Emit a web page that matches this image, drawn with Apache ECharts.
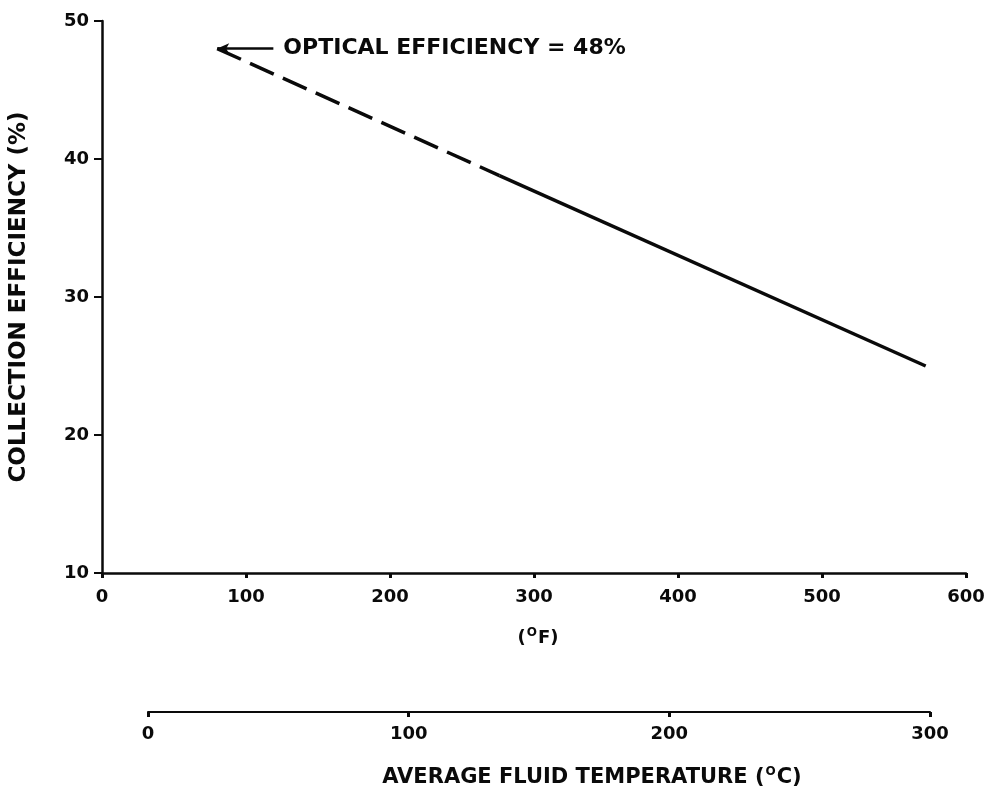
<!DOCTYPE html>
<html>
<head>
<meta charset="utf-8">
<script src="https://cdn.jsdelivr.net/npm/echarts@6/dist/echarts.min.js"></script>
<style>
  html, body { margin: 0; padding: 0; background: #fff; }
  #chart { width: 992px; height: 794px; }
</style>
</head>
<body>
<div id="chart"></div>
<script>
// Collection efficiency vs. average fluid temperature
const fahrenheitTicks = [0, 100, 200, 300, 400, 500, 600];
const celsiusTicks = [0, 100, 200, 300];
const efficiencyTicks = [10, 20, 30, 40, 50];

// Extrapolated (dashed) portion of the curve: temperature °F, efficiency %
const dashedTemp = [80, 276];
const dashedEff = [48, 38.8];
// Measured (solid) portion of the curve
const solidTemp = [276, 572];
const solidEff = [38.8, 25];

// Optical efficiency callout
const opticalEff = 48;
const calloutTemp = [80, 119];

const FONT = '"DejaVu Sans", "Liberation Sans", sans-serif';
const INK = '#0a0a0a';

const chart = echarts.init(document.getElementById('chart'));

// Rich-text styles for names carrying a raised "O" degree mark
const unitRich = (size) => ({
  p: { fontFamily: FONT, fontWeight: 'bold', fontSize: size, color: INK },
  s: { fontFamily: FONT, fontWeight: 'bold', fontSize: 12, color: INK,
       padding: [0, 1, Math.round(size * 0.55), 1] }
});

const tickLabel = (ticks, margin) => ({
  fontFamily: FONT, fontWeight: 'bold', fontSize: 18, color: INK, margin: margin,
  formatter: (v) => ticks.includes(v) ? String(v) : ''
});

chart.setOption({
  animation: false,
  backgroundColor: '#fff',
  grid: [
    { left: 101, right: 26, top: 21, bottom: 221 },
    { left: 148, right: 62, top: 712, height: 0 }
  ],
  xAxis: [
    {
      type: 'value', gridIndex: 0, min: 0, max: 600, interval: 100,
      axisLine: { lineStyle: { color: INK, width: 2.5 } },
      axisTick: { show: true, length: 5, lineStyle: { color: INK, width: 3 } },
      axisLabel: tickLabel(fahrenheitTicks, 15),
      splitLine: { show: false },
      name: '{p|(}{s|O}{p|F)}', nameLocation: 'middle', nameGap: 54,
      nameTextStyle: { padding: [0, 0, 0, 8], rich: unitRich(18) }
    },
    {
      type: 'value', gridIndex: 1, min: 0, max: 300, interval: 100,
      axisLine: { lineStyle: { color: INK, width: 2 } },
      axisTick: { show: true, length: 5, lineStyle: { color: INK, width: 3 } },
      axisLabel: tickLabel(celsiusTicks, 13),
      splitLine: { show: false },
      name: '{p|AVERAGE FLUID TEMPERATURE (}{s|O}{p|C)}', nameLocation: 'middle', nameGap: 54,
      nameTextStyle: { padding: [0, 0, 0, 106], rich: unitRich(21) }
    }
  ],
  yAxis: [
    {
      type: 'value', gridIndex: 0, min: 10, max: 50, interval: 10,
      axisLine: { show: true, lineStyle: { color: INK, width: 2.5 } },
      axisTick: { show: true, length: 8, lineStyle: { color: INK, width: 2 } },
      axisLabel: tickLabel(efficiencyTicks, 13),
      splitLine: { show: false },
      name: 'COLLECTION EFFICIENCY (%)', nameLocation: 'middle', nameGap: 71, nameRotate: 90,
      nameTextStyle: { fontFamily: FONT, fontWeight: 'bold', fontSize: 23, color: INK }
    },
    {
      type: 'value', gridIndex: 1, min: 0, max: 1, show: false
    }
  ],
  series: [
    {
      type: 'line', xAxisIndex: 0, yAxisIndex: 0, symbol: 'none',
      data: dashedTemp.map((t, i) => [t, dashedEff[i]]),
      lineStyle: { color: INK, width: 3.5, type: [26, 10] }
    },
    {
      type: 'line', xAxisIndex: 0, yAxisIndex: 0, symbol: 'none',
      data: solidTemp.map((t, i) => [t, solidEff[i]]),
      lineStyle: { color: INK, width: 3.5 }
    },
    {
      type: 'line', xAxisIndex: 0, yAxisIndex: 0, symbol: 'none', data: [],
      markLine: {
        silent: true, animation: false,
        symbol: ['arrow', 'none'], symbolSize: [8, 12],
        lineStyle: { color: INK, width: 2.5, type: 'solid' },
        label: {
          show: true, position: 'end', distance: 10,
          formatter: 'OPTICAL EFFICIENCY = ' + opticalEff + '%',
          fontFamily: FONT, fontWeight: 'bold', fontSize: 22, color: INK
        },
        data: [[{ coord: [calloutTemp[0], opticalEff] }, { coord: [calloutTemp[1], opticalEff] }]]
      }
    }
  ]
});
</script>
</body>
</html>
